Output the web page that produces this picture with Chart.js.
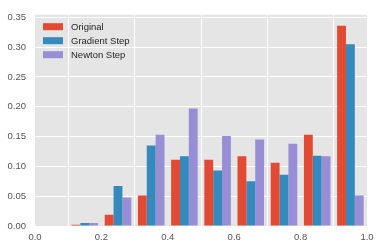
<!DOCTYPE html>
<html>
<head>
<meta charset="utf-8">
<script src="https://cdn.jsdelivr.net/npm/chart.js@4.4.1/dist/chart.umd.min.js"></script>
<style>
  html, body { margin: 0; padding: 0; background: #fff; }
  #wrap { width: 382px; height: 248px; }
</style>
</head>
<body>
<div id="wrap"><canvas id="myChart"></canvas></div>
<script>
// bin centres (histogram bins 0.1 wide)
const binCenters = [0.15, 0.25, 0.35, 0.45, 0.55, 0.65, 0.75, 0.85, 0.95];
const seriesNames = ['Original', 'Gradient Step', 'Newton Step'];
const original = [0.002, 0.019, 0.051, 0.111, 0.111, 0.117, 0.106, 0.153, 0.336];
const gradientStep = [0.005, 0.067, 0.135, 0.117, 0.093, 0.075, 0.086, 0.118, 0.305];
const newtonStep = [0.005, 0.048, 0.153, 0.197, 0.151, 0.145, 0.138, 0.117, 0.051];
const yTicks = [0, 0.05, 0.10, 0.15, 0.20, 0.25, 0.30, 0.35];
const xTicks = [0, 0.2, 0.4, 0.6, 0.8, 1.0];

const colors = ['#E24A33', '#348ABD', '#988ED5'];
const font = "'Liberation Sans', Arial, sans-serif";

function pts(vals) {
    return binCenters.map(function (x, i) { return {x: x, y: vals[i]}; });
}

const bgPlugin = {
    id: 'plotBg',
    beforeDraw: function (chart) {
        const a = chart.chartArea, c = chart.ctx;
        c.save();
        c.fillStyle = '#E5E5E5';
        c.fillRect(a.left, a.top, a.right - a.left, a.bottom - a.top);
        c.restore();
    }
};

const legendPlugin = {
    id: 'innerLegend',
    afterDraw: function (chart) {
        const a = chart.chartArea, c = chart.ctx;
        c.save();
        c.font = '9.5px ' + font;
        c.textBaseline = 'middle';
        chart.data.datasets.forEach(function (ds, i) {
            const y = a.top + 12 + i * 14;
            c.fillStyle = ds.backgroundColor;
            c.fillRect(a.left + 8, y - 3.5, 20, 7);
            c.fillStyle = '#262626';
            c.fillText(ds.label, a.left + 36, y + 0.5);
        });
        c.restore();
    }
};

const ctx = document.getElementById('myChart');
new Chart(ctx, {
    type: 'bar',
    data: {
        datasets: [
            {label: seriesNames[0], data: pts(original), backgroundColor: colors[0]},
            {label: seriesNames[1], data: pts(gradientStep), backgroundColor: colors[1]},
            {label: seriesNames[2], data: pts(newtonStep), backgroundColor: colors[2]}
        ]
    },
    options: {
        responsive: true,
        maintainAspectRatio: false,
        animation: false,
        layout: {padding: {top: 8, right: 15, left: 0, bottom: 0}},
        datasets: {bar: {categoryPercentage: 0.8, barPercentage: 1.0, borderWidth: 0}},
        plugins: {legend: {display: false}, tooltip: {enabled: false}},
        scales: {
            x: {
                type: 'linear',
                min: 0, max: 1,
                offset: false,
                afterFit: function (s) { s.height = 22; },
                afterBuildTicks: function (s) { s.ticks = xTicks.map(function (v) { return {value: v}; }); },
                grid: {color: '#FFFFFF', lineWidth: 1, drawTicks: false},
                border: {display: false},
                ticks: {
                    color: '#555555', font: {family: font, size: 9.5}, padding: 6,
                    maxRotation: 0,
                    callback: function (v) { return v.toFixed(1); }
                }
            },
            y: {
                min: 0, max: 0.3544,
                afterFit: function (s) { s.width = 35; },
                afterBuildTicks: function (s) { s.ticks = yTicks.map(function (v) { return {value: v}; }); },
                grid: {color: '#FFFFFF', lineWidth: 1, drawTicks: false},
                border: {display: false},
                ticks: {
                    color: '#555555', font: {family: font, size: 9.5}, padding: 9,
                    callback: function (v) { return v.toFixed(2); }
                }
            }
        }
    },
    plugins: [bgPlugin, legendPlugin]
});
</script>
</body>
</html>
